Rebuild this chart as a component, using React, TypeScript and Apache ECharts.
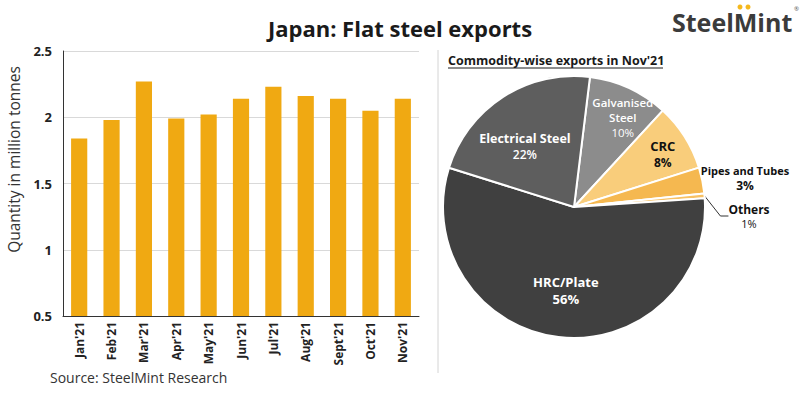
import React, { useEffect, useRef } from "react";
import * as echarts from "echarts";

const months = ["Jan'21", "Feb'21", "Mar'21", "Apr'21", "May'21", "Jun'21", "Jul'21", "Aug'21", "Sept'21", "Oct'21", "Nov'21"];
const exportsMt = [1.84, 1.98, 2.27, 1.99, 2.02, 2.14, 2.23, 2.16, 2.14, 2.05, 2.14];

const commodities = ["Galvanised Steel", "CRC", "Pipes and Tubes", "Others", "HRC/Plate", "Electrical Steel"];
const shares = [9.9, 8.3, 3.2, 0.6, 55.9, 22.1];
const sliceColors = ["#8c8c8c", "#f9cd7b", "#f5b850", "#f7c165", "#404040", "#5e5e5e"];

const FONT = "'Open Sans', sans-serif";

export default function App() {
  const ref = useRef<HTMLDivElement>(null);

  useEffect(() => {
    if (!ref.current) return;
    const chart = echarts.init(ref.current, undefined, { renderer: "svg" });

    const labelStyles: any[] = [
      { position: "inside", color: "#ffffff", rich: { n: { fontSize: 11.5, fontWeight: 600, color: "#fff", lineHeight: 15, fontFamily: FONT }, p: { fontSize: 11.5, color: "#fff", lineHeight: 15, fontFamily: FONT } } },
      { position: "inside", color: "#111", rich: { n: { fontSize: 13, fontWeight: "bold", color: "#111", lineHeight: 17, fontFamily: FONT }, p: { fontSize: 12, fontWeight: "bold", color: "#111", lineHeight: 16, fontFamily: FONT } } },
      { position: "outside", color: "#111", rich: { n: { fontSize: 11, fontWeight: "bold", color: "#111", lineHeight: 14, fontFamily: FONT }, p: { fontSize: 12, fontWeight: "bold", color: "#111", lineHeight: 15, fontFamily: FONT } } },
      { position: "outside", color: "#111", rich: { n: { fontSize: 12, fontWeight: "bold", color: "#111", lineHeight: 15, fontFamily: FONT }, p: { fontSize: 11, color: "#111", lineHeight: 14, fontFamily: FONT } } },
      { position: "inside", color: "#fff", rich: { n: { fontSize: 13, fontWeight: "bold", color: "#fff", lineHeight: 17, fontFamily: FONT }, p: { fontSize: 13, fontWeight: "bold", color: "#fff", lineHeight: 17, fontFamily: FONT } } },
      { position: "inside", color: "#fff", rich: { n: { fontSize: 12.5, fontWeight: "bold", color: "#fff", lineHeight: 16, fontFamily: FONT }, p: { fontSize: 12, fontWeight: 600, color: "#fff", lineHeight: 15, fontFamily: FONT } } },
    ];

    const labelShift: any[] = [
      { dx: 20, dy: -27 },
      { dx: 31, dy: -16 },
      { x: 745, y: 178, align: "center", verticalAlign: "middle" },
      { x: 749, y: 216, align: "center", verticalAlign: "middle" },
      { dx: 0, dy: 15 },
      { dx: -12, dy: -3 },
    ];

    const pieData = commodities.map((name, i) => ({
      name,
      value: shares[i],
      itemStyle: { color: sliceColors[i] },
      label: labelStyles[i],
      labelLine: i === 3 ? { show: true, length: 0, length2: 8, lineStyle: { color: "#333", width: 1 } } : { show: false },
    }));

    chart.setOption({
      animation: false,
      textStyle: { fontFamily: FONT },
      grid: { left: 63, right: 381, top: 51, bottom: 82 },
      xAxis: {
        type: "category",
        data: months,
        axisLine: { show: true, lineStyle: { color: "#333", width: 1 } },
        axisTick: { show: false },
        axisLabel: { rotate: 90, interval: 0, fontWeight: "bold", fontSize: 12, color: "#222", margin: 6, fontFamily: FONT },
      },
      yAxis: {
        type: "value",
        min: 0.5,
        max: 2.5,
        interval: 0.5,
        name: "Quantity in million tonnes",
        nameLocation: "middle",
        nameGap: 41,
        nameTextStyle: { fontSize: 15.5, color: "#333", fontFamily: FONT, padding: [0, 0, 0, 48] },
        axisLine: { show: true, lineStyle: { color: "#333", width: 1 } },
        axisTick: { show: false },
        axisLabel: { fontWeight: "bold", fontSize: 13, color: "#222", margin: 11, fontFamily: FONT },
        splitLine: { show: true, lineStyle: { color: "#d9d9d9", width: 1 } },
      },
      series: [
        {
          type: "bar",
          data: exportsMt,
          barWidth: "50%",
          itemStyle: { color: "#f0a912" },
        },
        {
          type: "pie",
          center: [574, 207],
          radius: [0, 131],
          startAngle: 83,
          clockwise: true,
          percentPrecision: 0,
          avoidLabelOverlap: false,
          itemStyle: { borderColor: "#ffffff", borderWidth: 2 },
          label: {
            formatter: (p: any) => {
              const name = p.dataIndex === 0 ? "{n|Galvanised}\n{n|Steel}" : `{n|${p.name}}`;
              return `${name}\n{p|${p.percent}%}`;
            },
          },
          labelLayout: (params: any) => labelShift[params.dataIndex] || {},
          emphasis: { disabled: true },
          data: pieData,
        },
      ],
      graphic: [
        {
          type: "text",
          left: "center",
          top: 17,
          style: { text: "Japan: Flat steel exports", fontSize: 22, fontWeight: "bold", fill: "#1a1a1a", fontFamily: FONT },
        },
        {
          type: "text",
          x: 672,
          y: 22,
          style: { text: "SteelMint", fontSize: 25, fontWeight: "bold", fill: "#3b3b3b", fontFamily: FONT, verticalAlign: "middle" },
        },
        { type: "circle", shape: { cx: 740, cy: 7, r: 2.5 }, style: { fill: "#f5b81c" } },
        { type: "circle", shape: { cx: 748, cy: 7, r: 2.5 }, style: { fill: "#f5b81c" } },
        {
          type: "text",
          x: 794,
          y: 6,
          style: { text: "®", fontSize: 6, fill: "#555", fontFamily: FONT },
        },
        {
          type: "line",
          shape: { x1: 438, y1: 50, x2: 438, y2: 373 },
          style: { stroke: "#d4d4d4", lineWidth: 1 },
        },
        {
          type: "text",
          x: 448,
          y: 60,
          style: { text: "Commodity-wise exports in Nov'21", fontSize: 12.5, fontWeight: "bold", fill: "#1a1a1a", fontFamily: FONT, verticalAlign: "middle" },
        },
        {
          type: "line",
          shape: { x1: 448, y1: 68, x2: 663, y2: 68 },
          style: { stroke: "#1a1a1a", lineWidth: 1 },
        },
        {
          type: "text",
          x: 50,
          y: 377,
          style: { text: "Source: SteelMint Research", fontSize: 14, fill: "#333", fontFamily: FONT, verticalAlign: "middle" },
        },
      ],
    });

    return () => chart.dispose();
  }, []);

  return <div ref={ref} style={{ position: "absolute", left: 0, top: 0, width: 800, height: 398, background: "#fff" }} />;
}
